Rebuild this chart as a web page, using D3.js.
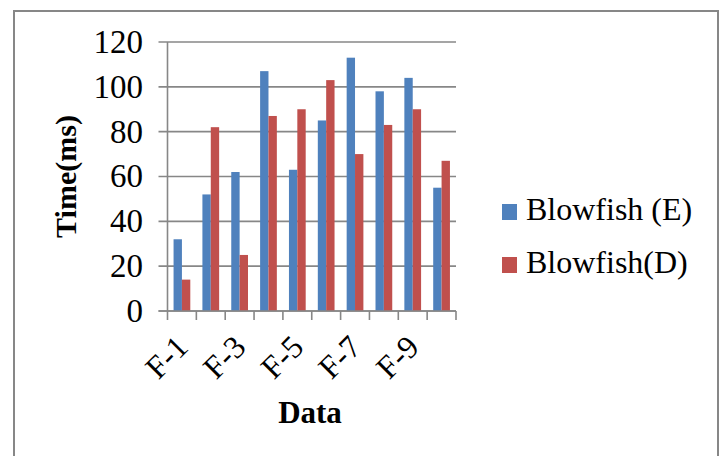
<!DOCTYPE html>
<html>
<head>
<meta charset="utf-8">
<script src="https://cdn.jsdelivr.net/npm/d3@7"></script>
<style>
  html, body { margin: 0; padding: 0; background: #fff; }
  svg { display: block; font-family: "Liberation Serif", "Times New Roman", serif; }
</style>
</head>
<body>
<svg id="chart" width="720" height="456"></svg>
<script>
// Encryption / decryption times for each data file
const categories = ["F-1", "F-2", "F-3", "F-4", "F-5", "F-6", "F-7", "F-8", "F-9", "F-10"];
const seriesNames = ["Blowfish (E)", "Blowfish(D)"];
const encryptTimes = [32, 52, 62, 107, 63, 85, 113, 98, 104, 55];
const decryptTimes = [14, 82, 25, 87, 90, 103, 70, 83, 90, 67];
const seriesColors = ["#4F81BD", "#C0504D"];
const yTicks = [0, 20, 40, 60, 80, 100, 120];

const series = [encryptTimes, decryptTimes];
const svg = d3.select("#chart");
const gridColor = "#878787";

// Outer frame
svg.append("rect")
  .attr("x", 14).attr("y", 11)
  .attr("width", 704).attr("height", 460)
  .attr("fill", "none").attr("stroke", gridColor).attr("stroke-width", 2);

const plot = { left: 167.5, right: 456, top: 42, bottom: 311 };

const x = d3.scaleBand().domain(categories).range([plot.left, plot.right]).padding(0);
const xs = d3.scaleBand().domain(d3.range(series.length))
  .range([x.bandwidth() * 0.21, x.bandwidth() * 0.79]).padding(0);
const y = d3.scaleLinear().domain([0, 120]).range([plot.bottom, plot.top]);

// Horizontal gridlines with outward tick stubs
svg.append("g").selectAll("line")
  .data(yTicks)
  .join("line")
  .attr("x1", plot.left - 9).attr("x2", plot.right)
  .attr("y1", d => y(d)).attr("y2", d => y(d))
  .attr("stroke", gridColor).attr("stroke-width", 1.6);

// Y axis labels
svg.append("g").selectAll("text")
  .data(yTicks)
  .join("text")
  .attr("x", 143).attr("y", d => y(d))
  .attr("dy", "0.33em")
  .attr("text-anchor", "end")
  .attr("font-size", 33)
  .attr("fill", "#000")
  .text(d => d);

// Vertical axis line
svg.append("line")
  .attr("x1", plot.left).attr("x2", plot.left)
  .attr("y1", plot.top).attr("y2", plot.bottom)
  .attr("stroke", gridColor).attr("stroke-width", 1.6);

// Category boundary ticks under the baseline
const boundaries = categories.map(c => x(c)).concat([plot.right]);
svg.append("g").selectAll("line")
  .data(boundaries)
  .join("line")
  .attr("x1", d => d).attr("x2", d => d)
  .attr("y1", plot.bottom).attr("y2", plot.bottom + 9)
  .attr("stroke", gridColor).attr("stroke-width", 1.6);

// Bars
const groups = svg.append("g").selectAll("g")
  .data(series)
  .join("g")
  .attr("fill", (d, i) => seriesColors[i]);

groups.each(function (vals, si) {
  d3.select(this).selectAll("rect")
    .data(vals)
    .join("rect")
    .attr("x", (v, ci) => x(categories[ci]) + xs(si))
    .attr("width", xs.bandwidth())
    .attr("y", v => y(v))
    .attr("height", v => y(0) - y(v));
});

// Baseline drawn over bar bottoms
svg.append("line")
  .attr("x1", plot.left - 9).attr("x2", plot.right)
  .attr("y1", plot.bottom).attr("y2", plot.bottom)
  .attr("stroke", gridColor).attr("stroke-width", 1.6);

// Rotated category labels (every other one)
svg.append("g").selectAll("text")
  .data(categories.filter((c, i) => i % 2 === 0))
  .join("text")
  .attr("transform", c => `translate(${x(c) + x.bandwidth() / 2 + 8},${plot.bottom + 38}) rotate(-45)`)
  .attr("text-anchor", "end")
  .attr("font-size", 32)
  .attr("fill", "#000")
  .text(c => c);

// Axis titles
svg.append("text")
  .attr("x", 310).attr("y", 423)
  .attr("text-anchor", "middle")
  .attr("font-size", 31).attr("font-weight", "bold")
  .text("Data");

svg.append("text")
  .attr("transform", `translate(76,${(plot.top + plot.bottom) / 2}) rotate(-90)`)
  .attr("text-anchor", "middle")
  .attr("font-size", 30).attr("font-weight", "bold")
  .text("Time(ms)");

// Legend
const legend = svg.append("g").selectAll("g")
  .data(seriesNames)
  .join("g")
  .attr("transform", (d, i) => `translate(502,${204 + i * 53})`);

legend.append("rect")
  .attr("width", 15).attr("height", 16)
  .attr("fill", (d, i) => seriesColors[i]);

legend.append("text")
  .attr("x", 24).attr("y", 16)
  .attr("font-size", 32)
  .attr("fill", "#000")
  .text(d => d);
</script>
</body>
</html>
